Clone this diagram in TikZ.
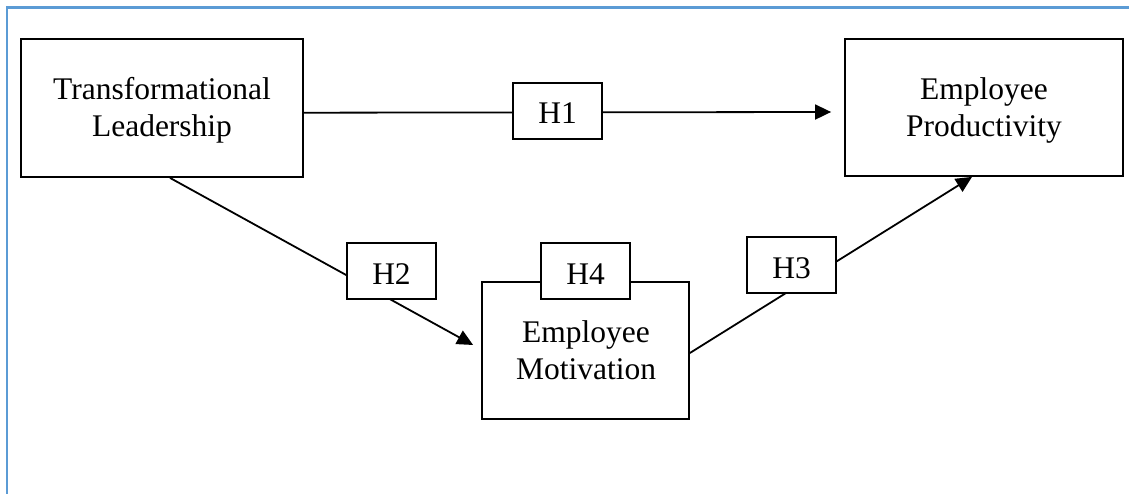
\documentclass[tikz,border=0pt]{standalone}
\usepackage{fontspec}
\setmainfont{Liberation Serif}
\usetikzlibrary{arrows.meta}
\definecolor{frameblue}{HTML}{5B9BD5}
\tikzset{
  bigbox/.style={draw, line width=1.8pt, fill=white, inner sep=0pt},
  hbox/.style={draw, line width=1.8pt, fill=white, inner sep=0pt,
    minimum width=89pt, minimum height=56pt, text height=26pt, text depth=0pt,
    font=\fontsize{31.5}{37}\selectfont},
  txt/.style={inner sep=0pt, anchor=base, align=center,
    font=\fontsize{31.5}{37}\selectfont},
  arr/.style={line width=1.8pt, -{Triangle[length=16pt,width=15pt]}},
  frame/.style={draw=frameblue, line width=2.6pt}
}
\begin{document}
\begin{tikzpicture}[x=1pt,y=-1pt]
\useasboundingbox (0,0) rectangle (1129,494);
% frame
\coordinate (fb) at (7,494);
\coordinate (fc) at (7,7.5);
\coordinate (fe) at (1129,7.5);
\draw[frame] (fb) -- (fc) -- (fe);
% main boxes
\node[bigbox, minimum width=282pt, minimum height=138pt] (TL) at (162,108) {};
\node[bigbox, minimum width=278pt, minimum height=137pt] (EP) at (984,107.5) {};
\node[bigbox, minimum width=207pt, minimum height=137pt] (EM) at (585.5,350.5) {};
\node[txt] (TLt) at (162,137) {Transformational\\Leadership};
\node[txt] (EPt) at (984,137) {Employee\\Productivity};
\node[txt] (EMt) at (586,379) {Employee\\Motivation};
% connectors
\draw[arr] ([yshift=-4.7pt]TL.east) -- ([xshift=-13pt,yshift=-4.5pt]EP.west);
\draw[arr] ([xshift=8pt]TL.south) -- ([xshift=-8pt,yshift=5.5pt]EM.west);
\draw[arr] ([yshift=-2.5pt]EM.east) -- ([xshift=-12pt]EP.south);
% hypothesis labels
\node[hbox] (H1) at (557.5,111) {H1};
\node[hbox] (H2) at (391.5,271) {H2};
\node[hbox] (H4) at (585.5,271) {H4};
\node[hbox] (H3) at (791.5,265) {H3};
\end{tikzpicture}
\end{document}
